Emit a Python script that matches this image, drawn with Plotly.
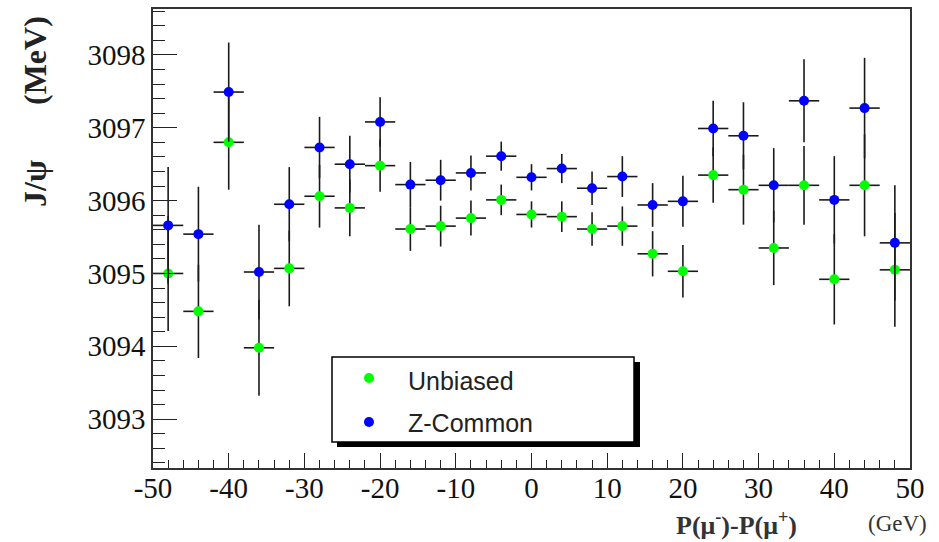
import plotly.graph_objects as go

# ---- data ----
x_bins = [-48, -44, -40, -36, -32, -28, -24, -20, -16, -12, -8, -4, 0,
          4, 8, 12, 16, 20, 24, 28, 32, 36, 40, 44, 48]
x_halfwidth = [2] * 25
unbiased = [3095.00, 3094.48, 3096.80, 3093.98, 3095.07, 3096.06, 3095.90, 3096.48,
            3095.61, 3095.65, 3095.76, 3096.01, 3095.81, 3095.78, 3095.61, 3095.65,
            3095.27, 3095.03, 3096.35, 3096.15, 3095.35, 3096.21, 3094.92, 3096.21, 3095.05]
unbiased_err = [0.79, 0.64, 0.65, 0.66, 0.52, 0.43, 0.39, 0.36, 0.30, 0.28, 0.24, 0.21,
                0.18, 0.21, 0.23, 0.27, 0.31, 0.36, 0.38, 0.48, 0.51, 0.54, 0.62, 0.70, 0.78]
zcommon = [3095.66, 3095.54, 3097.49, 3095.02, 3095.95, 3096.73, 3096.50, 3097.08,
           3096.22, 3096.28, 3096.38, 3096.61, 3096.32, 3096.44, 3096.17, 3096.33,
           3095.94, 3095.99, 3096.99, 3096.89, 3096.21, 3097.37, 3096.01, 3097.27, 3095.42]
zcommon_err = [0.80, 0.65, 0.68, 0.65, 0.51, 0.42, 0.39, 0.34, 0.31, 0.28, 0.24, 0.20,
               0.18, 0.20, 0.23, 0.28, 0.30, 0.35, 0.38, 0.46, 0.51, 0.57, 0.60, 0.69, 0.79]
series_names = ["Unbiased", "Z-Common"]
series_colors = ["#00ff00", "#0000ff"]
x_tickvals = [-50, -40, -30, -20, -10, 0, 10, 20, 30, 40, 50]
x_ticktext = ["-50", "-40", "-30", "-20", "-10", "0", "10", "20", "30", "40", "50"]
y_tickvals = [3093, 3094, 3095, 3096, 3097, 3098]
y_ticktext = ["3093", "3094", "3095", "3096", "3097", "3098"]

W, H = 939, 542
L, R, T, B = 153, 29, 9, 74
pw, ph = W - L - R, H - T - B


def px2paper(px, py):
    return (px - L) / pw, (H - B - py) / ph


fig = go.Figure()
for name, yv, ev, col in [(series_names[0], unbiased, unbiased_err, series_colors[0]),
                          (series_names[1], zcommon, zcommon_err, series_colors[1])]:
    fig.add_trace(go.Scatter(
        x=x_bins, y=yv, mode="markers", name=name,
        marker=dict(color=col, size=10, line=dict(width=0)),
        error_y=dict(type="data", array=ev, visible=True, width=0,
                     thickness=1.6, color="#1a1a1a"),
        error_x=dict(type="data", array=x_halfwidth, visible=True, width=0,
                     thickness=1.6, color="#1a1a1a"),
        showlegend=False, hoverinfo="skip",
    ))

serif = "Liberation Serif, Times New Roman, serif"
fig.update_layout(
    width=W, height=H,
    margin=dict(l=L, r=R, t=T, b=B, autoexpand=False),
    font=dict(family=serif, color="#111"),
    paper_bgcolor="white", plot_bgcolor="white",
    xaxis=dict(range=[-50, 50], tickmode="array", tickvals=x_tickvals, ticktext=x_ticktext,
               ticks="inside", ticklen=15, tickwidth=1.3, tickcolor="#222",
               minor=dict(tickmode="linear", tick0=-50, dtick=2, ticks="inside", ticklen=8,
                          tickwidth=1.3, tickcolor="#222"),
               showline=True, mirror=True, linecolor="#333", linewidth=1.5,
               showgrid=False, zeroline=False, automargin=False,
               ticklabelstandoff=-7,
               tickfont=dict(family=serif, size=29, color="#111")),
    yaxis=dict(range=[3092.33, 3098.63], tickmode="array", tickvals=y_tickvals, ticktext=y_ticktext,
               ticks="inside", ticklen=24, tickwidth=1.3, tickcolor="#222",
               minor=dict(tickmode="linear", tick0=3093, dtick=0.2, ticks="inside", ticklen=12,
                          tickwidth=1.3, tickcolor="#222"),
               showline=True, mirror=True, linecolor="#333", linewidth=1.5,
               showgrid=False, zeroline=False, automargin=False,
               tickfont=dict(family=serif, size=29, color="#111")),
)

# y axis title
for txt, cy in [("J/ψ", 183), ("(MeV)", 60)]:
    xp, yp = px2paper(35, cy)
    fig.add_annotation(x=xp, y=yp, xref="paper", yref="paper", text=f"<b>{txt}</b>",
                       textangle=-90, showarrow=False, xanchor="center", yanchor="middle",
                       font=dict(family=serif, size=32, color="#222"))

# x axis title
for txt, lx, fs in [("<b>P(μ<sup>-</sup>)-P(μ<sup>+</sup>)</b>", 674, 26), ("(GeV)", 866, 23)]:
    xp, yp = px2paper(lx, 523)
    fig.add_annotation(x=xp, y=yp, xref="paper", yref="paper", text=txt,
                       showarrow=False, xanchor="left", yanchor="middle",
                       font=dict(family=serif, size=fs, color="#333"))

# legend (box with shadow)
sx0, sy0 = px2paper(337, 447)
sx1, sy1 = px2paper(640, 362)
fig.add_shape(type="rect", xref="paper", yref="paper", x0=sx0, y0=sy0, x1=sx1, y1=sy1,
              fillcolor="black", line=dict(width=0), layer="above")
bx0, by0 = px2paper(332, 442)
bx1, by1 = px2paper(634, 357)
fig.add_shape(type="rect", xref="paper", yref="paper", x0=bx0, y0=by0, x1=bx1, y1=by1,
              fillcolor="white", line=dict(color="black", width=1.5), layer="above")
for name, col, cy, ty in [(series_names[0], series_colors[0], 378, 381),
                          (series_names[1], series_colors[1], 422, 423)]:
    c0x, c0y = px2paper(364, cy + 5)
    c1x, c1y = px2paper(374, cy - 5)
    fig.add_shape(type="circle", xref="paper", yref="paper", x0=c0x, y0=c0y, x1=c1x, y1=c1y,
                  fillcolor=col, line=dict(width=0), layer="above")
    tx, typ = px2paper(406, ty)
    fig.add_annotation(x=tx, y=typ, xref="paper", yref="paper", text=name, showarrow=False,
                       xanchor="left", yanchor="middle",
                       font=dict(family="Liberation Sans, Arial, sans-serif", size=25, color="#222"))

fig.write_html("out.html", config={"displayModeBar": False},
               post_script="document.body.style.margin='0px';document.body.style.overflow='hidden';")
